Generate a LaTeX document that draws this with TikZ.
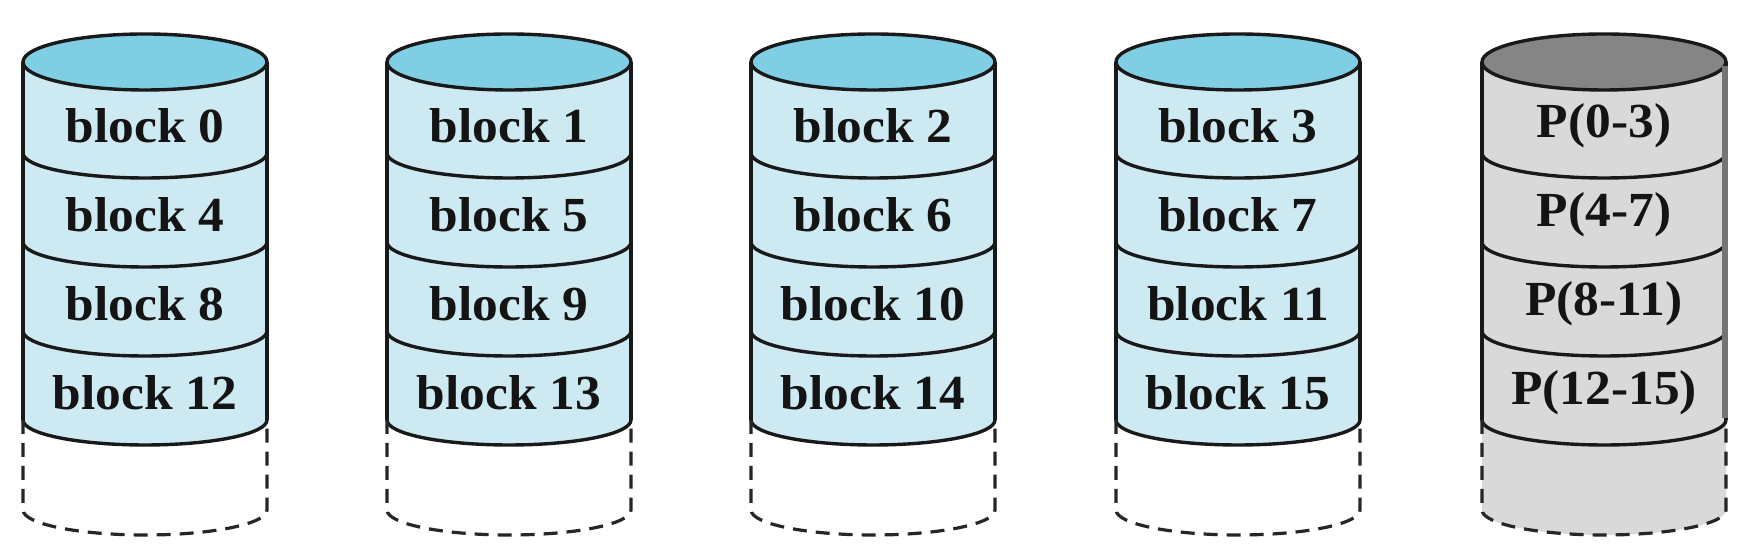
\documentclass[tikz,border=0pt]{standalone}
\usepackage{fontspec}
\newfontfamily\blkfont[FakeStretch=1.05]{Liberation Serif Bold}
\definecolor{topblue}{HTML}{80CEE4}
\definecolor{bodyblue}{HTML}{CDE9F2}
\definecolor{topgrey}{HTML}{858585}
\definecolor{bodygrey}{HTML}{D9D9D9}
\definecolor{shadegrey}{HTML}{747474}
\tikzset{
  edge/.style={line width=1.7pt, draw=black!90},
  dashedge/.style={line width=1.6pt, draw=black!85, dash pattern=on 7pt off 4.5pt},
  lbl/.style={font=\blkfont\fontsize{24.5}{26}\selectfont, text=black!92, inner sep=0pt},
}
\newcommand{\diskcyl}[4]{% #1 center x, #2 top colour, #3 body colour, #4 bottom fill
  \fill[#4] (#1-122,140) -- (#1-122,50) arc[start angle=180,end angle=360,x radius=122,y radius=25] -- (#1+122,140) -- cycle;
  \fill[#3] (#1-122,498) -- (#1-122,140) arc[start angle=180,end angle=360,x radius=122,y radius=25] -- (#1+122,498) -- cycle;
  \filldraw[edge, fill=#2] (#1,498) ellipse[x radius=122,y radius=28];
  \draw[edge] (#1-122,498) -- (#1-122,140);
  \draw[edge] (#1+122,498) -- (#1+122,140);
  \foreach \yy in {407,318,229,140}{
    \draw[edge] (#1-122,\yy) arc[start angle=180,end angle=360,x radius=122,y radius=25];
  }
  \draw[dashedge] (#1-122,140) -- (#1-122,50) arc[start angle=180,end angle=360,x radius=122,y radius=25] -- (#1+122,140);
}
\begin{document}
\begin{tikzpicture}[x=0.5pt,y=0.5pt]
\useasboundingbox (0,0) rectangle (1758,560);
\fill[white] (0,0) rectangle (1758,560);
\diskcyl{145}{topblue}{bodyblue}{white}
\diskcyl{509}{topblue}{bodyblue}{white}
\diskcyl{873}{topblue}{bodyblue}{white}
\diskcyl{1238}{topblue}{bodyblue}{white}
\diskcyl{1604}{topgrey}{bodygrey}{bodygrey}
\draw[line width=3pt, shadegrey] (1725,494) -- (1725,142);
\node[lbl] (b0) at (145,434) {block 0};
\node[lbl] (b4) at (145,345) {block 4};
\node[lbl] (b8) at (145,256) {block 8};
\node[lbl] (b12) at (145,167) {block 12};
\node[lbl] (b1) at (509,434) {block 1};
\node[lbl] (b5) at (509,345) {block 5};
\node[lbl] (b9) at (509,256) {block 9};
\node[lbl] (b13) at (509,167) {block 13};
\node[lbl] (b2) at (873,434) {block 2};
\node[lbl] (b6) at (873,345) {block 6};
\node[lbl] (b10) at (873,256) {block 10};
\node[lbl] (b14) at (873,167) {block 14};
\node[lbl] (b3) at (1238,434) {block 3};
\node[lbl] (b7) at (1238,345) {block 7};
\node[lbl] (b11) at (1238,256) {block 11};
\node[lbl] (b15) at (1238,167) {block 15};
\node[lbl] (p0) at (1604,434) {P(0-3)};
\node[lbl] (p1) at (1604,345) {P(4-7)};
\node[lbl] (p2) at (1604,256) {P(8-11)};
\node[lbl] (p3) at (1604,167) {P(12-15)};
\end{tikzpicture}
\end{document}
